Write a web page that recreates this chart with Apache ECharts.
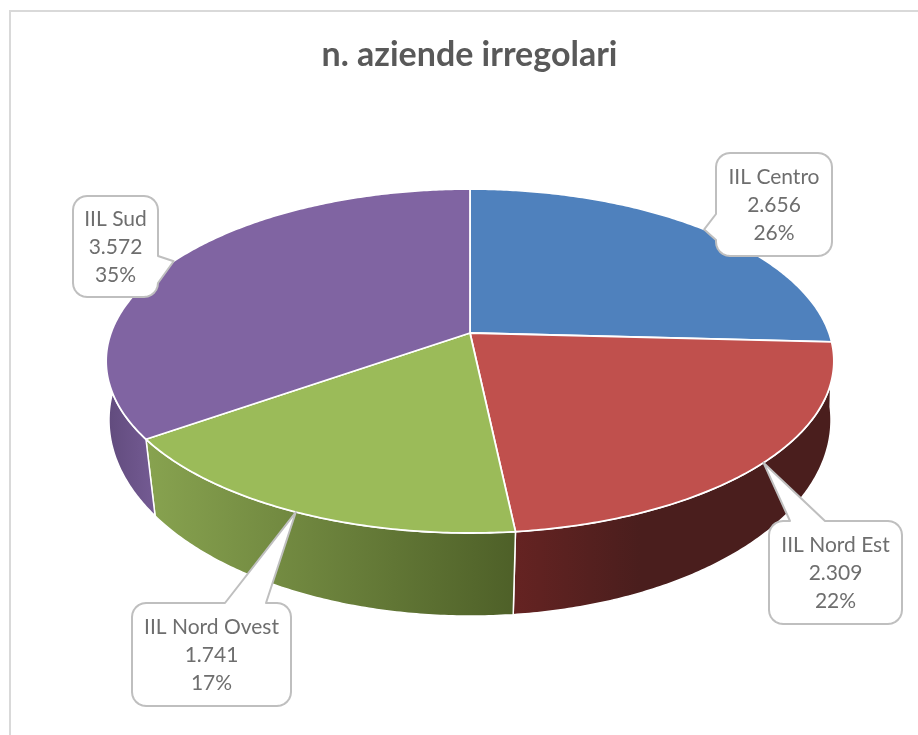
<!DOCTYPE html>
<html>
<head>
<meta charset="utf-8">
<style>
  html, body { margin: 0; padding: 0; background: #fff; }
  #main { width: 918px; height: 735px; }
</style>
<script src="https://cdn.jsdelivr.net/npm/echarts@6/dist/echarts.min.js"></script>
</head>
<body>
<div id="main"></div>
<script>
// data
var categories = ['IIL Centro', 'IIL Nord Est', 'IIL Nord Ovest', 'IIL Sud'];
var values = [2656, 2309, 1741, 3572];
var chartTitle = 'n. aziende irregolari';

// styles
var topColors = ['#4f81bd', '#c0504d', '#9bbb59', '#8064a2'];
var wallColors = [
    ['#3a5f8c', '#3a5f8c'],
    ['#652322', '#4a1e1d'],
    ['#87a24f', '#4e6028'],
    ['#614b7d', '#735a92']
];
var wallRange = [[700, 830], [515, 640], [150, 515], [107, 152]];
var fontName = 'Lato, Carlito, Calibri, sans-serif';

// callout boxes: side the tail leaves from, and where along that side
var boxes = [
    {x: 716, y: 153, w: 116, h: 103, side: 'left', a: 214, b: 240},
    {x: 769, y: 521, w: 133, h: 103, side: 'top', a: 790, b: 825},
    {x: 132, y: 603, w: 159, h: 103, side: 'top', a: 225, b: 266},
    {x: 73, y: 196, w: 85, h: 101, side: 'right', a: 256, b: 283}
];

// projection of the tilted disc (top face and bottom face)
var topFace = {cx: 470, cy: 333, a: 359, b: 167.4, k: 0.163};
var bottomFace = {cx: 470, cy: 396.5, a: 358.4, b: 193.2, k: 0.12};

var total = values.reduce(function (s, v) { return s + v; }, 0);
var starts = [];
values.reduce(function (s, v) { starts.push(s); return s + v; }, 0);

function angleOf(v) {
    return v / total * Math.PI * 2;
}

function project(face, t) {
    var u = Math.sin(t);
    var v = -Math.cos(t);
    var w = 1 - face.k * v;
    return [face.cx + face.a * u / w, face.cy + face.b * v / w];
}

function rim(face, t0, t1) {
    var pts = [];
    var n = Math.max(2, Math.ceil((t1 - t0) / 0.01));
    for (var i = 0; i <= n; i++) {
        pts.push(project(face, t0 + (t1 - t0) * i / n));
    }
    return pts;
}

function formatNumber(v) {
    return String(v).replace(/\B(?=(\d{3})+$)/g, '.');
}

function corner(pts, cx, cy, r, from) {
    for (var i = 0; i <= 6; i++) {
        var t = from + i / 6 * Math.PI / 2;
        pts.push([cx + r * Math.cos(t), cy + r * Math.sin(t)]);
    }
}

function calloutPoints(b, tip) {
    var r = 14;
    var pts = [];
    var R = b.x + b.w, B = b.y + b.h;
    corner(pts, b.x + r, b.y + r, r, Math.PI);
    if (b.side === 'top') { pts.push([b.a, b.y], tip, [b.b, b.y]); }
    corner(pts, R - r, b.y + r, r, -Math.PI / 2);
    if (b.side === 'right') { pts.push([R, b.a], tip, [R, b.b]); }
    corner(pts, R - r, B - r, r, 0);
    corner(pts, b.x + r, B - r, r, Math.PI / 2);
    if (b.side === 'left') { pts.push([b.x, b.b], tip, [b.x, b.a]); }
    return pts;
}

function renderWall(params, api) {
    var i = params.dataIndex;
    var t0 = angleOf(starts[i]);
    var t1 = t0 + angleOf(api.value(0));
    var pts = rim(topFace, t0, t1).concat(rim(bottomFace, t0, t1).reverse());
    return {
        type: 'polygon',
        shape: {points: pts},
        style: {
            fill: new echarts.graphic.LinearGradient(wallRange[i][0], 0, wallRange[i][1], 0, [
                {offset: 0, color: wallColors[i][0]},
                {offset: 1, color: wallColors[i][1]}
            ], true),
            stroke: '#fff',
            lineWidth: 1.5
        }
    };
}

function renderFace(params, api) {
    var i = params.dataIndex;
    var t0 = angleOf(starts[i]);
    var t1 = t0 + angleOf(api.value(0));
    var pts = [[topFace.cx, topFace.cy]].concat(rim(topFace, t0, t1));
    return {
        type: 'polygon',
        shape: {points: pts},
        style: {fill: topColors[i], stroke: '#fff', lineWidth: 1.8, lineJoin: 'round'}
    };
}

function renderCallout(params, api) {
    var i = params.dataIndex;
    var v = api.value(0);
    var b = boxes[i];
    var tip = project(topFace, angleOf(starts[i] + v / 2));
    return {
        type: 'group',
        children: [{
            type: 'polygon',
            shape: {points: calloutPoints(b, tip)},
            style: {fill: '#fff', stroke: '#bfbfbf', lineWidth: 2, lineJoin: 'round'}
        }, {
            type: 'text',
            style: {
                x: b.x + b.w / 2,
                y: b.y + b.h / 2 + 1,
                text: categories[i] + '\n' + formatNumber(v) + '\n' + Math.round(v / total * 100) + '%',
                align: 'center',
                verticalAlign: 'middle',
                fontFamily: fontName,
                fontSize: 21,
                lineHeight: 28,
                fill: '#6e6e6e'
            }
        }]
    };
}

var seriesData = values.map(function (v, i) {
    return {name: categories[i], value: [v]};
});

var myChart = echarts.init(document.getElementById('main'), null, {renderer: 'canvas'});
myChart.setOption({
    animation: false,
    backgroundColor: '#fff',
    title: {
        text: chartTitle,
        left: 464.5,
        top: 33,
        textAlign: 'center',
        textStyle: {
            color: '#595959',
            fontFamily: fontName,
            fontSize: 34,
            fontWeight: 'bold'
        }
    },
    graphic: [{
        type: 'rect',
        silent: true,
        shape: {x: 10, y: 11, width: 940, height: 760},
        style: {fill: 'none', stroke: '#d9d9d9', lineWidth: 2}
    }],
    series: [
        {type: 'custom', coordinateSystem: 'none', renderItem: renderWall, data: seriesData, z: 2, silent: true},
        {type: 'custom', coordinateSystem: 'none', renderItem: renderFace, data: seriesData, z: 3, silent: true},
        {type: 'custom', coordinateSystem: 'none', renderItem: renderCallout, data: seriesData, z: 4, silent: true}
    ]
});
</script>
</body>
</html>
